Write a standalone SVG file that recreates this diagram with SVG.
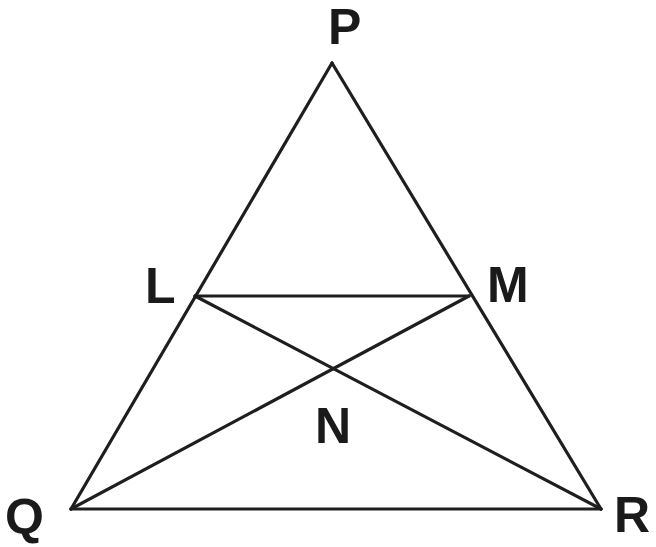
<svg xmlns="http://www.w3.org/2000/svg" width="656" height="547" viewBox="0 0 656 547">
<style>
.e{stroke:#1e1e1e;stroke-width:3.2;fill:none;stroke-linecap:round;stroke-linejoin:round}
.t{font-family:"Liberation Sans",Arial,sans-serif;font-weight:bold;font-size:50px;fill:#1a1a1a}
</style>
<rect width="656" height="547" fill="#fff"/>
<g id="connectors">
<path class="e" d="M332,63 L71,509"/>
<path class="e" d="M332,63 L601,509"/>
<path class="e" d="M71,509 L601,509"/>
<path class="e" d="M195,296 L469,296"/>
<path class="e" d="M195,296 L601,509"/>
<path class="e" d="M469,296 L71,509"/>
</g>
<g id="P"><text class="t" x="328" y="44">P</text></g>
<g id="L"><text class="t" x="145" y="303">L</text></g>
<g id="M"><text class="t" x="487" y="302">M</text></g>
<g id="N"><text class="t" x="315" y="443">N</text></g>
<g id="Q"><text class="t" x="5" y="534">Q</text></g>
<g id="R"><text class="t" x="614" y="532">R</text></g>
</svg>
